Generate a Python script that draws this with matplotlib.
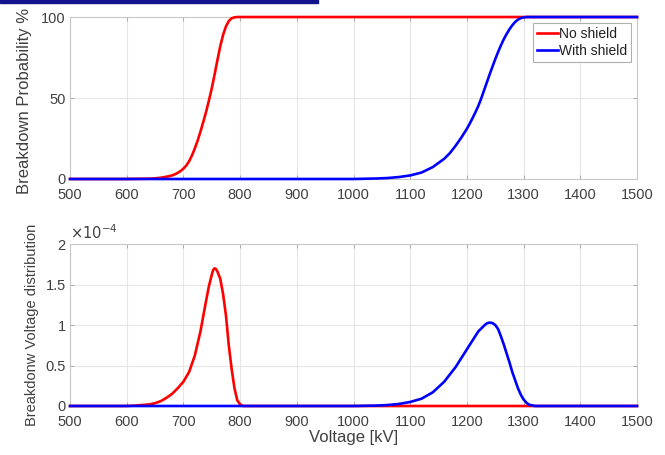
import matplotlib
matplotlib.use("Agg")
import matplotlib.pyplot as plt
from matplotlib.patches import Rectangle
from matplotlib.ticker import FuncFormatter

plt.rcParams["font.family"] = ["Liberation Sans", "DejaVu Sans"]

# cumulative breakdown probability, %
cdf_v_red = [500, 600, 640, 650, 660, 670, 680, 685, 690, 695, 700, 705, 710, 715, 720,
             725, 730, 735, 740, 745, 750, 755, 760, 765, 770, 775, 780, 785, 790, 795, 1500]
cdf_red = [0, 0, 0.2, 0.4, 0.8, 1.4, 2.2, 2.9, 3.8, 4.9, 6.4, 8.3, 10.9, 14.5, 18.8,
           23.6, 29.2, 35.2, 41.5, 48.5, 56, 64.5, 73.5, 82, 89, 94.2, 97.5, 99.2, 99.8, 100, 100]

cdf_v_blue = [500, 1000, 1040, 1060, 1080, 1100, 1120, 1140, 1160, 1170, 1180, 1190, 1200,
              1205, 1210, 1215, 1220, 1225, 1230, 1235, 1240, 1245, 1250, 1255, 1260, 1265,
              1270, 1275, 1280, 1285, 1290, 1295, 1300, 1305, 1500]
cdf_blue = [0, 0, 0.3, 0.6, 1.2, 2.2, 4.0, 7.4, 12.5, 16, 20.5, 25.5, 31,
            34.2, 37.6, 41.2, 45, 49.5, 54.5, 59.5, 64.5, 69.3, 74, 78.4, 82.5, 86.3,
            89.5, 92.4, 94.9, 96.9, 98.4, 99.3, 99.8, 100, 100]

# breakdown voltage distribution, x 1e-4
pdf_v_red = [500, 600, 620, 640, 650, 660, 670, 680, 690, 700, 710, 720, 730, 740, 745, 750,
             752.5, 755, 757.5, 760, 765, 770, 775, 780, 785, 790, 795, 800, 805, 1500]
pdf_red = [0, 0, 0.008, 0.02, 0.035, 0.06, 0.10, 0.15, 0.22, 0.30, 0.42, 0.62, 0.92, 1.30, 1.48,
           1.62, 1.68, 1.70, 1.69, 1.66, 1.57, 1.38, 1.12, 0.75, 0.46, 0.22, 0.07, 0.02, 0, 0]

pdf_v_blue = [500, 1000, 1040, 1060, 1080, 1100, 1120, 1140, 1160, 1180, 1200, 1210, 1220,
              1230, 1235, 1240, 1245, 1250, 1255, 1260, 1265, 1270, 1275, 1280, 1285, 1290,
              1295, 1300, 1305, 1310, 1320, 1500]
pdf_blue = [0, 0, 0.005, 0.012, 0.025, 0.05, 0.09, 0.17, 0.30, 0.48, 0.70, 0.81, 0.92,
            0.99, 1.02, 1.03, 1.025, 1.00, 0.95, 0.86, 0.76, 0.65, 0.54, 0.42, 0.32, 0.22,
            0.14, 0.08, 0.04, 0.015, 0, 0]

x_ticks = list(range(500, 1501, 100))
txt_col = "#404040"
box_col = "#c8c8c8"

fig = plt.figure(figsize=(6.65, 4.55), dpi=100)
fig.add_artist(Rectangle((0, 1 - 3 / 455), 318 / 665, 3 / 455, color="#12128c",
                         transform=fig.transFigure))

ax1 = fig.add_axes([0.1053, 0.6066, 0.8526, 0.356])
ax2 = fig.add_axes([0.1053, 0.1077, 0.8526, 0.356])

line_kw = dict(lw=1.9, clip_on=False, zorder=3)
ax1.plot(cdf_v_red, cdf_red, color="red", label="No shield", **line_kw)
ax1.plot(cdf_v_blue, cdf_blue, color="blue", label="With shield", **line_kw)
ax2.plot(pdf_v_red, pdf_red, color="red", **line_kw)
ax2.plot(pdf_v_blue, pdf_blue, color="blue", **line_kw)

ax1.set_ylim(0, 100)
ax1.set_yticks([0, 50, 100])
ax2.set_ylim(0, 2)
ax2.set_yticks([0, 0.5, 1, 1.5, 2])
ax2.yaxis.set_major_formatter(FuncFormatter(lambda v, p: f"{v:g}"))

for ax in (ax1, ax2):
    ax.set_xlim(500, 1500)
    ax.set_xticks(x_ticks)
    ax.grid(True, color="#e6e6e6", lw=0.8)
    ax.set_axisbelow(True)
    ax.tick_params(direction="in", length=3, width=0.6, color="#a0a0a0",
                   labelsize=10.5, labelcolor=txt_col, top=True, right=True)
    ax.tick_params(axis="x", pad=6.5)
    ax.tick_params(axis="y", pad=3)
    for s in ax.spines.values():
        s.set_color(box_col)
        s.set_linewidth(0.8)

ax1.set_ylabel("Breakdown Probability %", fontsize=12, color=txt_col)
ax1.yaxis.set_label_coords(-0.067, 0.48)
ax2.set_ylabel("Breakdonw Voltage distribution", fontsize=10.5, color=txt_col)
ax2.yaxis.set_label_coords(-0.055, 0.5)
ax2.set_xlabel("Voltage [kV]", fontsize=12, color=txt_col, labelpad=1)
ax2.text(0.0, 1.01, r"$\times10^{-4}$", transform=ax2.transAxes, fontsize=10.5,
         color=txt_col, ha="left", va="bottom")

leg = ax1.legend(loc="upper right", fontsize=10, fancybox=False, framealpha=1,
                 edgecolor="#b0b0b0", handlelength=1.5, handletextpad=0.1,
                 borderpad=0.3, labelspacing=0.2, borderaxespad=0.4)
leg.get_frame().set_linewidth(0.8)
for t in leg.get_texts():
    t.set_color("#202020")

fig.savefig("out.png", dpi=100)
